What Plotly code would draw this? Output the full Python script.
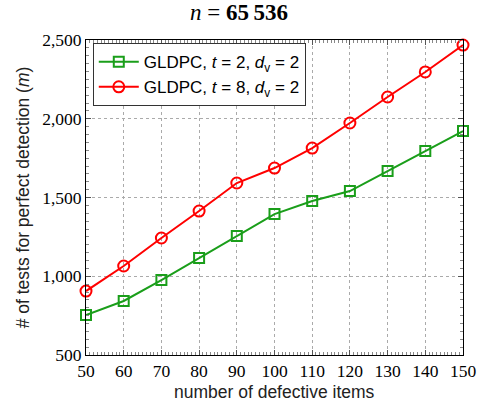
import plotly.graph_objects as go

x_vals = [50, 60, 70, 80, 90, 100, 110, 120, 130, 140, 150]
t2_vals = [754, 843, 976, 1116, 1256, 1395, 1478, 1541, 1668, 1795, 1922]
t8_vals = [906, 1065, 1243, 1414, 1592, 1687, 1814, 1973, 2138, 2297, 2468]
series_names = ["GLDPC, <i>t</i> = 2, <i>d</i><sub>v</sub> = 2",
                "GLDPC, <i>t</i> = 8, <i>d</i><sub>v</sub> = 2"]
x_ticks = [50, 60, 70, 80, 90, 100, 110, 120, 130, 140, 150]
y_ticks = [500, 1000, 1500, 2000, 2500]
x_title = "number of defective items"
y_title = "# of tests for perfect detection (<i>m</i>)"

fig = go.Figure()
fig.add_trace(go.Scatter(
    x=x_vals, y=t2_vals, mode="lines+markers", name=series_names[0],
    line=dict(color="#1a9e1a", width=2),
    marker=dict(symbol="square-open", size=10, color="#1a9e1a", line=dict(width=2)),
    cliponaxis=False,
))
fig.add_trace(go.Scatter(
    x=x_vals, y=t8_vals, mode="lines+markers", name=series_names[1],
    line=dict(color="#ff0000", width=2),
    marker=dict(symbol="circle-open", size=11, color="#ff0000", line=dict(width=2)),
    cliponaxis=False,
))

axis_common = dict(
    showline=True, linecolor="black", linewidth=1, mirror="ticks",
    ticks="inside", ticklen=5, tickcolor="#555",
    showgrid=True, gridcolor="#aaaaaa", griddash="dot", gridwidth=1,
    zeroline=False, ticklabeloverflow="allow", automargin=False,
    tickfont=dict(family="Liberation Serif", size=17.5, color="black"),
)

fig.update_xaxes(
    range=[50, 150], tickvals=x_ticks,
    minor=dict(dtick=1, ticks="inside", ticklen=3, tickcolor="#888", showgrid=False),
    **axis_common,
)
fig.update_yaxes(
    range=[500, 2500], tickvals=y_ticks, tickformat=",",
    title=dict(text=y_title,
               font=dict(family="Liberation Sans", size=17.5, color="#222"), standoff=8),
    minor=dict(dtick=50, ticks="inside", ticklen=3, tickcolor="#888", showgrid=False),
    **axis_common,
)

fig.add_annotation(
    text=x_title, xref="paper", yref="paper", x=0.5, y=-0.117,
    xanchor="center", yanchor="middle", showarrow=False,
    font=dict(family="Liberation Sans", size=17.5, color="#222"),
)

fig.update_layout(
    width=477, height=403,
    margin=dict(l=86, r=14, t=40, b=48),
    paper_bgcolor="white", plot_bgcolor="white",
    title=dict(text="<i>n</i> = <b>65\u2009536</b>", x=0.501, xanchor="center",
               y=0.99, yanchor="top",
               font=dict(family="Liberation Serif", size=23, color="black")),
    legend=dict(x=0.018, y=0.99, xanchor="left", yanchor="top",
                bgcolor="white", bordercolor="#333", borderwidth=1,
                font=dict(family="Liberation Sans", size=17, color="black"),
                tracegroupgap=0, itemwidth=40),
    showlegend=True,
)

fig.write_html("out.html", config={"displayModeBar": False},
               post_script="document.body.style.margin='0';")
